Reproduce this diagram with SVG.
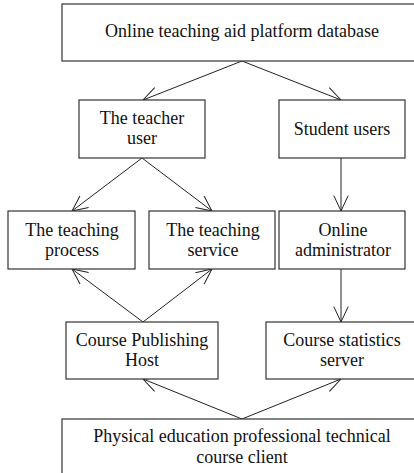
<svg xmlns="http://www.w3.org/2000/svg" width="414" height="473" viewBox="0 0 414 473">
<defs>
<style>
.box{fill:#fff;stroke:#333;stroke-width:1.2}
.t{font-family:'Liberation Serif','Times New Roman',Times,'DejaVu Serif',serif;font-size:18px;fill:#111;text-anchor:middle}
.c{stroke:#222;stroke-width:1;fill:none;marker-end:url(#ah)}
</style>
<marker id="ah" markerUnits="userSpaceOnUse" markerWidth="20" markerHeight="20" viewBox="-18 -10 20 20" refX="0" refY="0" orient="auto" overflow="visible">
<path d="M-15.4,-7.2 L0,0 L-15.4,7.2" fill="none" stroke="#222" stroke-width="1"/>
</marker>
</defs>
<rect width="414" height="473" fill="#fff"/>
<g id="connectors">
<line class="c" x1="242" y1="61" x2="143" y2="100"/>
<line class="c" x1="242" y1="61" x2="341" y2="100"/>
<line class="c" x1="142" y1="158" x2="72" y2="211"/>
<line class="c" x1="142" y1="158" x2="212" y2="211"/>
<line class="c" x1="341" y1="158" x2="341" y2="211"/>
<line class="c" x1="143" y1="322" x2="72" y2="269"/>
<line class="c" x1="143" y1="322" x2="212" y2="269"/>
<line class="c" x1="341" y1="269" x2="341" y2="322"/>
<line class="c" x1="242" y1="419" x2="143" y2="379"/>
<line class="c" x1="242" y1="419" x2="341" y2="379"/>
</g>
<g id="db">
<rect class="box" x="62" y="4" width="360" height="57"/>
<text class="t" x="242" y="37" font-family="Liberation Serif, serif">Online teaching aid platform database</text>
</g>
<g id="teacher">
<rect class="box" x="79" y="100" width="126" height="58"/>
<text class="t" x="142" y="124">The teacher</text>
<text class="t" x="142" y="144">user</text>
</g>
<g id="student">
<rect class="box" x="279" y="100" width="126" height="58"/>
<text class="t" x="342" y="135">Student users</text>
</g>
<g id="process">
<rect class="box" x="8" y="211" width="127" height="58"/>
<text class="t" x="72" y="236">The teaching</text>
<text class="t" x="72" y="256">process</text>
</g>
<g id="service">
<rect class="box" x="149" y="211" width="126" height="58"/>
<text class="t" x="213" y="236">The teaching</text>
<text class="t" x="213" y="256">service</text>
</g>
<g id="admin">
<rect class="box" x="279" y="211" width="126" height="58"/>
<text class="t" x="343" y="236">Online</text>
<text class="t" x="343" y="256">administrator</text>
</g>
<g id="host">
<rect class="box" x="66" y="322" width="152" height="57"/>
<text class="t" x="142" y="346">Course Publishing</text>
<text class="t" x="142" y="366">Host</text>
</g>
<g id="stats">
<rect class="box" x="266" y="322" width="156" height="57"/>
<text class="t" x="342" y="346">Course statistics</text>
<text class="t" x="342" y="366">server</text>
</g>
<g id="client">
<rect class="box" x="62" y="419" width="360" height="60"/>
<text class="t" x="242" y="442">Physical education professional technical</text>
<text class="t" x="242" y="463">course client</text>
</g>
</svg>
